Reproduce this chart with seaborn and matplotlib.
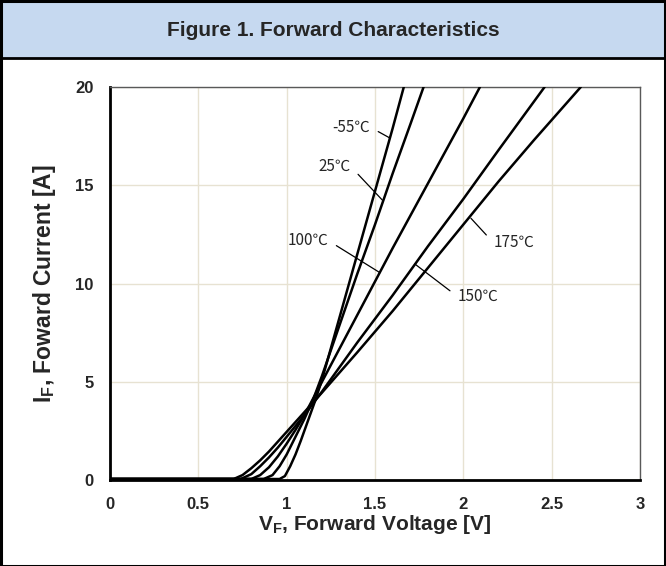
import numpy as np
import pandas as pd
import matplotlib
matplotlib.use("Agg")
import matplotlib.pyplot as plt
from matplotlib.patches import Rectangle
from matplotlib.lines import Line2D
import seaborn as sns

# Forward characteristics (V in volts, I in amps)
temps = ["-55℃", "25℃", "100℃", "150℃", "175℃"]

v_m55 = [0.0, 0.96, 0.99, 1.02, 1.05, 1.08, 1.12, 1.16, 1.20, 1.30, 1.40, 1.50, 1.60, 1.663]
i_m55 = [0.05, 0.05, 0.2, 0.7, 1.3, 2.0, 3.0, 4.0, 5.1, 8.3, 11.5, 14.7, 17.9, 20.0]

v_25 = [0.0, 0.87, 0.92, 0.96, 1.00, 1.05, 1.10, 1.15, 1.20, 1.30, 1.40, 1.50, 1.60, 1.70, 1.775]
i_25 = [0.05, 0.05, 0.25, 0.7, 1.3, 2.2, 3.1, 4.1, 5.3, 7.9, 10.5, 13.0, 15.6, 18.1, 20.0]

v_100 = [0.0, 0.80, 0.85, 0.90, 0.95, 1.00, 1.05, 1.10, 1.20, 1.40, 1.60, 1.80, 2.00, 2.094]
i_100 = [0.05, 0.05, 0.25, 0.65, 1.2, 1.85, 2.55, 3.3, 5.0, 8.4, 11.8, 15.1, 18.4, 20.0]

v_150 = [0.0, 0.74, 0.80, 0.85, 0.90, 0.95, 1.00, 1.05, 1.10, 1.20, 1.40, 1.60, 1.80, 2.00, 2.20, 2.46]
i_150 = [0.05, 0.05, 0.3, 0.7, 1.15, 1.65, 2.2, 2.75, 3.3, 4.5, 7.0, 9.4, 11.9, 14.3, 16.8, 20.0]

v_175 = [0.0, 0.70, 0.75, 0.80, 0.85, 0.90, 0.95, 1.00, 1.05, 1.10, 1.20, 1.40, 1.60, 1.80, 2.00, 2.20, 2.40, 2.665]
i_175 = [0.05, 0.05, 0.25, 0.6, 1.0, 1.45, 1.95, 2.45, 2.95, 3.45, 4.45, 6.5, 8.6, 10.8, 13.0, 15.2, 17.3, 20.0]

x_ticks = [0, 0.5, 1, 1.5, 2, 2.5, 3]
x_ticklabels = ["0", "0.5", "1", "1.5", "2", "2.5", "3"]
y_ticks = [0, 5, 10, 15, 20]

# label text position, then the point on the curve the leader goes to
label_text = {"-55℃": (1.472, 17.96), "25℃": (1.364, 15.94), "100℃": (1.236, 12.18),
              "150℃": (1.968, 9.33), "175℃": (2.170, 12.08)}
label_tip = {"-55℃": (1.581, 17.42), "25℃": (1.541, 14.25), "100℃": (1.528, 10.55),
             "150℃": (1.726, 10.99), "175℃": (2.043, 13.32)}

sns.set_style("white")
plt.rcParams["font.family"] = ["Liberation Sans", "DejaVu Sans"]
plt.rcParams["mathtext.fontset"] = "custom"
plt.rcParams["mathtext.rm"] = "Liberation Sans"
plt.rcParams["mathtext.bf"] = "Liberation Sans:bold"

curves = {"-55℃": (v_m55, i_m55), "25℃": (v_25, i_25), "100℃": (v_100, i_100),
          "150℃": (v_150, i_150), "175℃": (v_175, i_175)}

fig = plt.figure(figsize=(6.66, 5.66), dpi=100)
W, H = 666, 566

# title band and frame
fig.patches.append(Rectangle((0, 1 - 58 / H), 1, 58 / H, transform=fig.transFigure,
                             facecolor="#C6D9F0", edgecolor="none", zorder=0))
fig.lines.append(Line2D([0, 1], [1 - 58 / H, 1 - 58 / H], transform=fig.transFigure,
                        color="black", lw=2))
fig.patches.append(Rectangle((0.5 / W, 0.5 / H), 1 - 1.5 / W, 1 - 1.5 / H, transform=fig.transFigure,
                             facecolor="none", edgecolor="black", lw=2.2, zorder=5))
fig.text(0.5, 1 - 30 / H, "Figure 1. Forward Characteristics", ha="center", va="center",
         fontsize=15, fontweight="bold")

ax = fig.add_axes([110 / W, 1 - 480 / H, 530 / W, 393 / H])
for t in temps:
    v, i = curves[t]
    sns.lineplot(x=v, y=i, sort=False, color="black", lw=1.8, ax=ax, zorder=3)

ax.set_xlim(0, 3)
ax.set_ylim(0, 20)
ax.set_xticks(x_ticks)
ax.set_xticklabels(x_ticklabels)
ax.set_yticks(y_ticks)
ax.grid(True, color="#E7E2D2", lw=1)
ax.tick_params(length=0, labelsize=12, pad=12)
for lab in ax.get_xticklabels() + ax.get_yticklabels():
    lab.set_fontweight("bold")

for s in ["top", "right"]:
    ax.spines[s].set_color("#595959")
    ax.spines[s].set_linewidth(1)
for s in ["left", "bottom"]:
    ax.spines[s].set_color("black")
    ax.spines[s].set_linewidth(2)

ax.set_xlabel(r"$\mathbf{V_F}$, Forward Voltage [V]", fontsize=15, fontweight="bold", labelpad=1)
ax.set_ylabel(r"$\mathbf{I_F}$, Foward Current [A]", fontsize=16.5, fontweight="bold", labelpad=12)

for t in temps:
    tx, ty = label_text[t]
    left_side = t not in ("150℃", "175℃")
    ax.annotate(t, xy=label_tip[t], xytext=(tx, ty), ha="right" if left_side else "left",
                va="center", fontsize=11, family=["Noto Sans CJK KR", "DejaVu Sans"],
                arrowprops=dict(arrowstyle="-", color="black", lw=0.9,
                                relpos=(1, 0.5) if left_side else (0, 0.5),
                                shrinkA=4, shrinkB=0))

fig.savefig("out.png", dpi=100)
